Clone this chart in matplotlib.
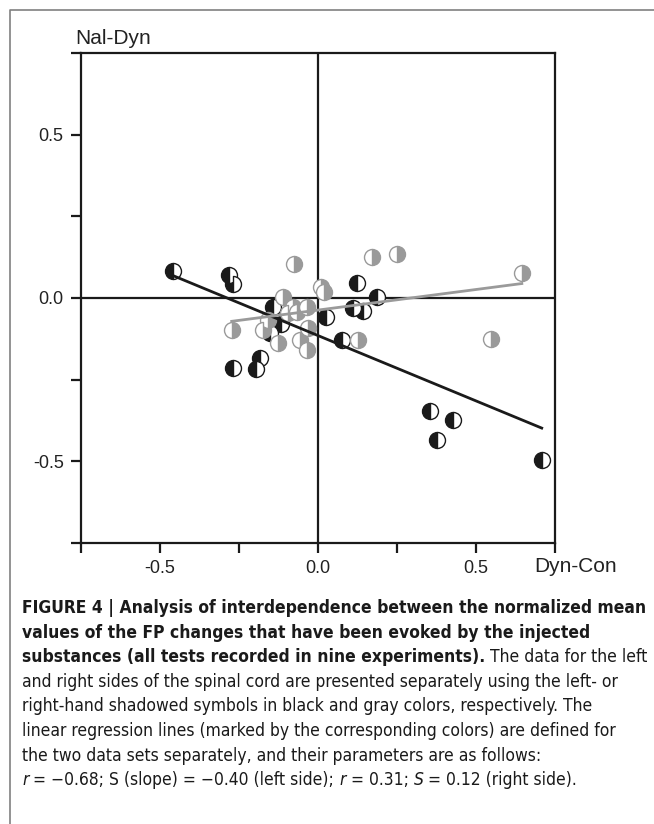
import matplotlib
matplotlib.use("Agg")
import matplotlib.pyplot as plt
from matplotlib.lines import Line2D
from matplotlib import font_manager

# left side of the spinal cord (black, left-hand shadowed symbols)
leftX = [-0.460, -0.282, -0.268, -0.143, -0.118, -0.152, -0.268, -0.184, -0.196,
         0.122, 0.186, 0.112, 0.141, 0.025, 0.075, 0.428, 0.708, 0.354, 0.376]
leftY = [0.084, 0.071, 0.042, -0.027, -0.080, -0.108, -0.213, -0.185, -0.216,
         0.045, 0.004, -0.032, -0.039, -0.057, -0.129, -0.374, -0.495, -0.346, -0.436]

# right side of the spinal cord (gray, right-hand shadowed symbols)
rightX = [-0.076, 0.170, 0.249, 0.009, 0.019, -0.110, -0.078, -0.036, -0.067, -0.094,
          -0.157, -0.273, -0.173, -0.031, -0.126, -0.057, -0.036, 0.128, 0.645, 0.549]
rightY = [0.104, 0.125, 0.135, 0.033, 0.019, 0.004, -0.027, -0.027, -0.042, -0.045,
          -0.067, -0.098, -0.098, -0.093, -0.137, -0.129, -0.160, -0.129, 0.078, -0.127]

# regression lines as drawn (slope, intercept)
leftFit = (-0.40, -0.115)
rightFit = (0.126, -0.037)

ticks = [-0.75, -0.5, -0.25, 0.0, 0.25, 0.5, 0.75]
tickLabels = ["", "-0.5", "", "0.0", "", "0.5", ""]
xLabel = "Dyn-Con"
yLabel = "Nal-Dyn"

caption = [
    [("FIGURE 4 | Analysis of interdependence between the normalized mean", "bold", "normal")],
    [("values of the FP changes that have been evoked by the injected", "bold", "normal")],
    [("substances (all tests recorded in nine experiments).", "bold", "normal"),
     ("The data for the left", "normal", "normal")],
    [("and right sides of the spinal cord are presented separately using the left- or", "normal", "normal")],
    [("right-hand shadowed symbols in black and gray colors, respectively. The", "normal", "normal")],
    [("linear regression lines (marked by the corresponding colors) are defined for", "normal", "normal")],
    [("the two data sets separately, and their parameters are as follows:", "normal", "normal")],
    [("r", "normal", "italic"), ("= \u22120.68; S (slope) = \u22120.40 (left side);", "normal", "normal"),
     ("r", "normal", "italic"), ("= 0.31;", "normal", "normal"),
     ("S", "normal", "italic"), ("= 0.12 (right side).", "normal", "normal")],
]

W, H = 654, 824
chartFont = ["Liberation Sans", "DejaVu Sans"]

# caption is set in a condensed face in the original; use one if it is installed
captionFont = ["Liberation Sans", "DejaVu Sans"]
captionStretch = "normal"
for fam in ["Liberation Sans Narrow", "DejaVu Sans"]:
    try:
        path = font_manager.findfont(font_manager.FontProperties(family=fam, stretch="condensed"),
                                     fallback_to_default=False)
    except ValueError:
        continue
    if "narrow" in path.lower() or "condensed" in path.lower():
        captionFont = [fam, "DejaVu Sans"]
        captionStretch = "condensed"
        break

fig = plt.figure(figsize=(W / 100, H / 100), dpi=100)
fig.patch.set_facecolor("white")

# page frame (left and top edges)
fig.add_artist(Line2D([10 / W, 10 / W, 1.0], [0.0, 1 - 10 / H, 1 - 10 / H],
                      transform=fig.transFigure, color="#808080", lw=1.2))

ax = fig.add_axes([81 / W, 1 - 543 / H, 474 / W, 490 / H])
ax.set_xlim(-0.75, 0.75)
ax.set_ylim(-0.75, 0.75)
for s in ax.spines.values():
    s.set_linewidth(1.6)
    s.set_color("#1a1a1a")
ax.axhline(0, color="#1a1a1a", lw=1.6, zorder=1)
ax.axvline(0, color="#1a1a1a", lw=1.6, zorder=1)

ax.set_xticks(ticks)
ax.set_xticklabels(tickLabels)
ax.set_yticks(ticks)
ax.set_yticklabels(tickLabels)
ax.tick_params(direction="out", length=7.5, width=1.6, color="#1a1a1a",
               labelsize=13, labelcolor="#222222", pad=5)
for lab in ax.get_xticklabels() + ax.get_yticklabels():
    lab.set_family(chartFont)

ax.plot(leftX, leftY, linestyle="none", marker="o", markersize=11.5,
        fillstyle="left", markerfacecolor="#1a1a1a", markerfacecoloralt="white",
        markeredgecolor="#1a1a1a", markeredgewidth=1.0, zorder=3)
ax.plot(rightX, rightY, linestyle="none", marker="o", markersize=11.5,
        fillstyle="right", markerfacecolor="#9a9a9a", markerfacecoloralt="white",
        markeredgecolor="#9a9a9a", markeredgewidth=1.0, zorder=4)

lx = [min(leftX), max(leftX)]
ax.plot(lx, [leftFit[0] * v + leftFit[1] for v in lx], color="#1a1a1a", lw=2.0, zorder=5)
rx = [min(rightX), max(rightX)]
ax.plot(rx, [rightFit[0] * v + rightFit[1] for v in rx], color="#9a9a9a", lw=2.0, zorder=5)

fig.text(75 / W, 1 - 38 / H, yLabel, fontsize=15, family=chartFont,
         color="#222222", va="center", ha="left")
fig.text(534 / W, 1 - 567 / H, xLabel, fontsize=15, family=chartFont,
         color="#222222", va="center", ha="left")

# caption, placed segment by segment
renderer = fig.canvas.get_renderer()
baseline = 613
lineStep = 24.6


def textWidth(s, weight, style, size):
    t = fig.text(0, 0, s, fontsize=size, family=captionFont, stretch=captionStretch,
                 weight=weight, style=style)
    w = t.get_window_extent(renderer).width
    t.remove()
    return w


# first caption line runs from x=22 to about x=643 in the original
captionSize = 10 * 618 / textWidth(caption[0][0][0], "bold", "normal", 10)
captionSize = min(captionSize, 14.5)
spaceW = textWidth("x x", "normal", "normal", captionSize) - textWidth("xx", "normal", "normal", captionSize)
for i, line in enumerate(caption):
    xPx = 22.0
    for j, (s, weight, style) in enumerate(line):
        t = fig.text(xPx / W, 1 - (baseline + i * lineStep) / H, s, fontsize=captionSize,
                     family=captionFont, stretch=captionStretch, weight=weight, style=style,
                     color="#1a1a1a", va="baseline", ha="left")
        xPx += t.get_window_extent(renderer).width + spaceW

fig.savefig("out.png", dpi=100)
